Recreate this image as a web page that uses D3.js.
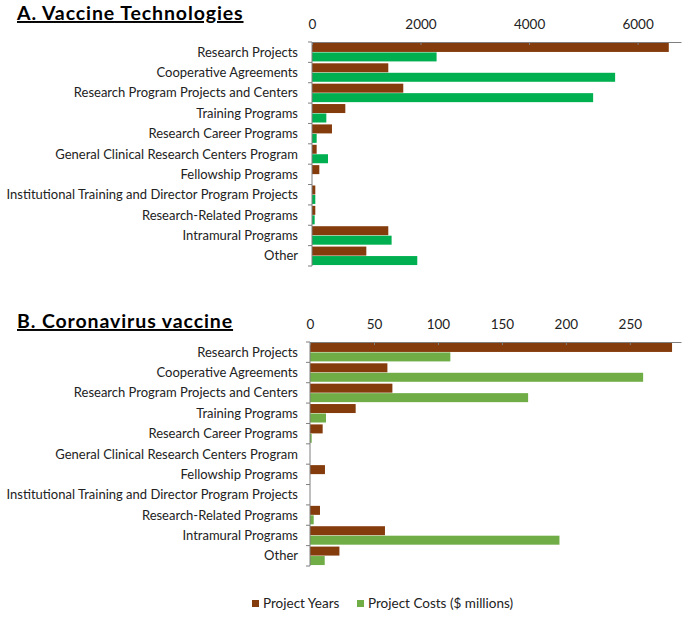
<!DOCTYPE html>
<html><head><meta charset="utf-8">
<script src="https://cdn.jsdelivr.net/npm/d3@7"></script>
<style>body{margin:0;background:#fff}svg{display:block}text{font-family:Lato,"Open Sans",sans-serif}</style>
</head><body><svg id="c" width="686" height="620"></svg>
<script>
const categories = ["Research Projects","Cooperative Agreements","Research Program Projects and Centers","Training Programs","Research Career Programs","General Clinical Research Centers Program","Fellowship Programs","Institutional Training and Director Program Projects","Research-Related Programs","Intramural Programs","Other"];
const seriesNames = ["Project Years","Project Costs ($ millions)"];
const vaccineYears = [6575,1406,1682,614,368,86,135,61,61,1406,1001];
const vaccineCosts = [2296,5586,5181,264,86,295,0,61,49,1467,1940];
const coronaYears = [283,60.5,64.4,35.7,9.9,0,11.7,0,7.8,58.6,23];
const coronaCosts = [109.7,260.4,170.5,12.5,1.3,0,0,0,2.9,195,11.5];
const ticksA = [0,2000,4000,6000];
const ticksB = [0,50,100,150,200,250];

const svg = d3.select("#c");
const brown = "#843C0C";

function panel(o){
  const g = svg.append("g");
  const x = d3.scaleLinear().domain([0,o.max]).range([o.x0,681]);
  const y = d3.scaleBand().domain(categories).range([o.top,o.top+224]);
  // title
  g.append("text").attr("x",17).attr("y",o.titleY).attr("font-size",19.5).attr("font-weight","bold")
    .attr("letter-spacing",0.9).attr("text-decoration","underline").attr("fill","#000").text(o.title);
  // bars
  const inner = d3.scaleBand().domain([0,1]).range([0,y.bandwidth()]).paddingOuter(0.1).paddingInner(0.05);
  categories.forEach((c,i)=>{
    [o.a[i],o.b[i]].forEach((v,j)=>{
      if(v<=0) return;
      g.append("rect").attr("x",x(0)).attr("y",y(c)+inner(j)).attr("width",x(v)-x(0)).attr("height",inner.bandwidth())
        .attr("fill",j?o.green:brown);
    });
  });
  // x axis
  const xa = d3.axisTop(x).tickValues(o.ticks).tickSize(3).tickSizeOuter(0).tickFormat(d3.format("d"));
  const ax = g.append("g").attr("transform",`translate(0,${o.top})`).call(xa);
  ax.select(".domain").attr("stroke","#7f7f7f");
  ax.selectAll(".tick line").attr("stroke","#7f7f7f").attr("y2",3);
  ax.selectAll(".tick text").attr("font-size",13.5).attr("fill","#222").attr("font-family","Lato,sans-serif").attr("dy",-7);
  // y axis
  g.append("line").attr("x1",x(0)).attr("x2",x(0)).attr("y1",o.top).attr("y2",o.top+224).attr("stroke","#7f7f7f");
  d3.range(categories.length+1).forEach(i=>{
    const yy = o.top + i*y.step();
    g.append("line").attr("x1",x(0)-4).attr("x2",x(0)).attr("y1",yy).attr("y2",yy).attr("stroke","#7f7f7f");
  });
  categories.forEach(c=>{
    g.append("text").attr("x",298).attr("y",y(c)+y.bandwidth()/2).attr("dy","0.35em").attr("text-anchor","end")
      .attr("font-size",13).attr("fill","#222").text(c);
  });
}

panel({title:"A. Vaccine Technologies",titleY:20,top:42,x0:312,max:6800,a:vaccineYears,b:vaccineCosts,ticks:ticksA,green:"#00B050"});
panel({title:"B. Coronavirus vaccine",titleY:328,top:342,x0:310,max:290,a:coronaYears,b:coronaCosts,ticks:ticksB,green:"#70AD47"});

// legend
const lg = svg.append("g");
const legendColors = [brown,"#70AD47"];
const legendX = [252,357];
seriesNames.forEach((s,i)=>{
  lg.append("rect").attr("x",legendX[i]).attr("y",600).attr("width",7).attr("height",7).attr("fill",legendColors[i]);
  lg.append("text").attr("x",legendX[i]+11).attr("y",607.5).attr("font-size",13.5).attr("fill","#222").text(s);
});
</script></body></html>
